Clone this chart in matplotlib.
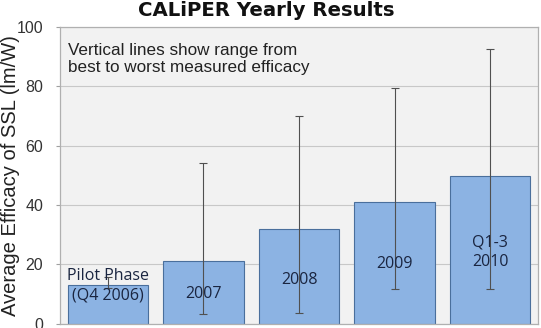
import matplotlib
matplotlib.use("Agg")
import matplotlib.pyplot as plt
import numpy as np

categories = ["Pilot Phase\n(Q4 2006)", "2007", "2008", "2009", "Q1-3\n2010"]
avg_efficacy = [13.0, 21.2, 31.9, 41.1, 49.7]
best_efficacy = [15.8, 54.0, 70.1, 79.3, 92.6]
worst_efficacy = [12.0, 3.3, 3.6, 11.5, 11.5]
label_y = [12.6, 10.0, 14.7, 20.0, 24.0]
yticks = [0, 20, 40, 60, 80, 100]

fig = plt.figure(figsize=(5.41, 3.28), dpi=100)
ax = fig.add_axes([60 / 541, (328 - 323.5) / 328, 478 / 541, 296.5 / 328])
ax.set_facecolor("#f2f2f2")

x = np.arange(len(categories))
ax.bar(x, avg_efficacy, width=0.84, color="#8cb3e3", edgecolor="#4a6f9c",
       linewidth=0.8, zorder=2)

avg = np.array(avg_efficacy)
yerr = [avg - np.array(worst_efficacy), np.array(best_efficacy) - avg]
ax.errorbar(x, avg, yerr=yerr, fmt="none", ecolor="#505050", elinewidth=0.8,
            capsize=3, capthick=0.8, zorder=3)

for xi, yi, lab in zip(x, label_y, categories):
    ax.text(xi, yi, lab, ha="center", va="center", fontsize=11.5,
            family="Open Sans", color="#1a2540", linespacing=1.3, zorder=4)

ax.set_xlim(-0.5, len(categories) - 0.5)
ax.set_ylim(0, 100)
ax.set_yticks(yticks)
ax.set_xticks([])
ax.grid(axis="y", color="#c8c8c8", linewidth=0.8, zorder=0)
ax.tick_params(axis="y", labelsize=11.5, length=3, color="#a0a0a0",
               labelcolor="#333333", pad=9)
for lbl in ax.get_yticklabels():
    lbl.set_family("Liberation Sans")
for side in ["left", "right", "top", "bottom"]:
    ax.spines[side].set_color("#b0b0b0")
    ax.spines[side].set_linewidth(0.9)

fig.text(11 / 541, 1 - 176 / 328, "Average Efficacy of SSL (lm/W)",
         rotation=90, ha="center", va="center", fontsize=14.5,
         family="Liberation Sans", color="#222222")

ax.text(0.017, 0.945, "Vertical lines show range from\nbest to worst measured efficacy",
        transform=ax.transAxes, ha="left", va="top", fontsize=12.3,
        family="Liberation Sans", color="#222222", linespacing=1.15)

fig.text(266 / 541, 1 - 11 / 328, "CALiPER Yearly Results", ha="center",
         va="center", fontsize=14.2, fontweight="bold", family="DejaVu Sans",
         color="#111111")

fig.savefig("out.png", dpi=100)
